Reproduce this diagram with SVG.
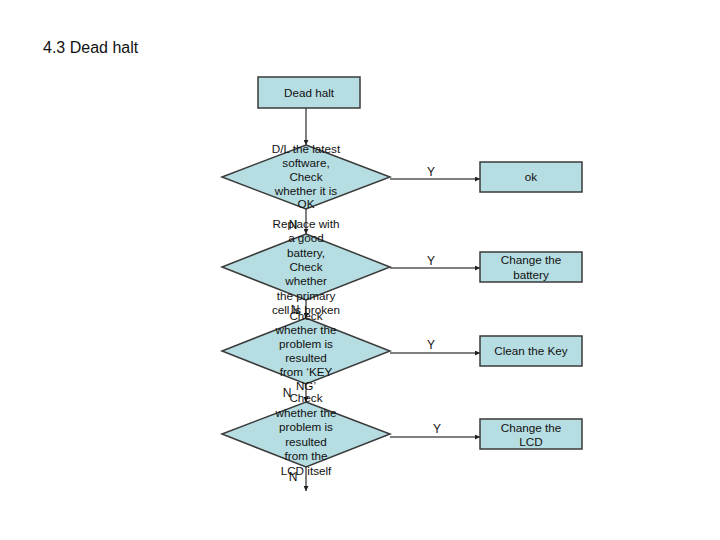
<svg xmlns="http://www.w3.org/2000/svg" width="720" height="540" viewBox="0 0 720 540">
<defs>
<marker id="arr" viewBox="0 0 10 10" refX="10" refY="5" markerWidth="5" markerHeight="5" orient="auto" markerUnits="userSpaceOnUse"><path d="M0,0 L10,5 L0,10 z" fill="#222"/></marker>
</defs>
<style>
.box{fill:#b6dde1;stroke:#3a3a3a;stroke-width:1.5}
.t{font-family:"Liberation Sans",Arial,sans-serif;font-size:11.7px;fill:#111;text-anchor:middle}
.lbl{font-family:"Liberation Sans",Arial,sans-serif;font-size:12px;fill:#111;text-anchor:middle}
.c{stroke:#555;stroke-width:1.5;fill:none;marker-end:url(#arr)}
</style>
<rect width="720" height="540" fill="#fff"/>
<text x="43" y="53" font-family="'Liberation Sans',Arial,sans-serif" font-size="16" fill="#111">4.3 Dead halt</text>
<g id="connectors">
<line class="c" x1="306" y1="108" x2="306" y2="145"/>
<line class="c" x1="306" y1="209" x2="306" y2="234"/>
<line class="c" x1="306" y1="300" x2="306" y2="318"/>
<line class="c" x1="306" y1="384" x2="306" y2="402"/>
<line class="c" x1="306" y1="467" x2="306" y2="491"/>
<line class="c" x1="390" y1="179" x2="480" y2="179"/>
<line class="c" x1="390" y1="268" x2="480" y2="268"/>
<line class="c" x1="390" y1="353" x2="480" y2="353"/>
<line class="c" x1="390" y1="437" x2="480" y2="437"/>
<text class="lbl" x="431" y="176">Y</text>
<text class="lbl" x="431" y="265">Y</text>
<text class="lbl" x="431" y="349">Y</text>
<text class="lbl" x="437" y="433">Y</text>
<text class="lbl" x="293" y="229">N</text>
<text class="lbl" x="295" y="314">N</text>
<text class="lbl" x="287" y="397">N</text>
<text class="lbl" x="293" y="481">N</text>
</g>
<g id="dead-halt">
<rect class="box" x="258" y="77" width="102" height="31"/>
<text class="t" x="309" y="97">Dead halt</text>
</g>
<g id="d1">
<polygon class="box" points="306,145 390,177 306,209 222,177"/>
<text class="t"><tspan x="306" y="153">D/L the latest</tspan><tspan x="306" y="167">software,</tspan><tspan x="306" y="181">Check</tspan><tspan x="306" y="195">whether it is</tspan><tspan x="306" y="208">OK</tspan></text>
</g>
<g id="d2">
<polygon class="box" points="306,234 390,267 306,300 222,267"/>
<text class="t"><tspan x="306" y="228">Replace with</tspan><tspan x="306" y="242">a good</tspan><tspan x="306" y="257">battery,</tspan><tspan x="306" y="271">Check</tspan><tspan x="306" y="285">whether</tspan><tspan x="306" y="300">the primary</tspan><tspan x="306" y="314">cell is broken</tspan></text>
</g>
<g id="d3">
<polygon class="box" points="306,318 390,351 306,384 222,351"/>
<text class="t"><tspan x="306" y="320">Check</tspan><tspan x="306" y="334">whether the</tspan><tspan x="306" y="348">problem is</tspan><tspan x="306" y="362">resulted</tspan><tspan x="306" y="376">from ‘KEY</tspan><tspan x="306" y="390">NG’</tspan></text>
</g>
<g id="d4">
<polygon class="box" points="306,402 390,434 306,467 222,434"/>
<text class="t"><tspan x="306" y="402">Check</tspan><tspan x="306" y="417">whether the</tspan><tspan x="306" y="431">problem is</tspan><tspan x="306" y="446">resulted</tspan><tspan x="306" y="460">from the</tspan><tspan x="306" y="475">LCD itself</tspan></text>
</g>
<g id="ok">
<rect class="box" x="480" y="162" width="102" height="30"/>
<text class="t" x="531" y="181">ok</text>
</g>
<g id="battery">
<rect class="box" x="480" y="252" width="102" height="30"/>
<text class="t"><tspan x="531" y="264">Change the</tspan><tspan x="531" y="279">battery</tspan></text>
</g>
<g id="key">
<rect class="box" x="480" y="336" width="102" height="30"/>
<text class="t" x="531" y="355">Clean the Key</text>
</g>
<g id="lcd">
<rect class="box" x="480" y="419" width="102" height="30"/>
<text class="t"><tspan x="531" y="432">Change the</tspan><tspan x="531" y="446">LCD</tspan></text>
</g>
</svg>
